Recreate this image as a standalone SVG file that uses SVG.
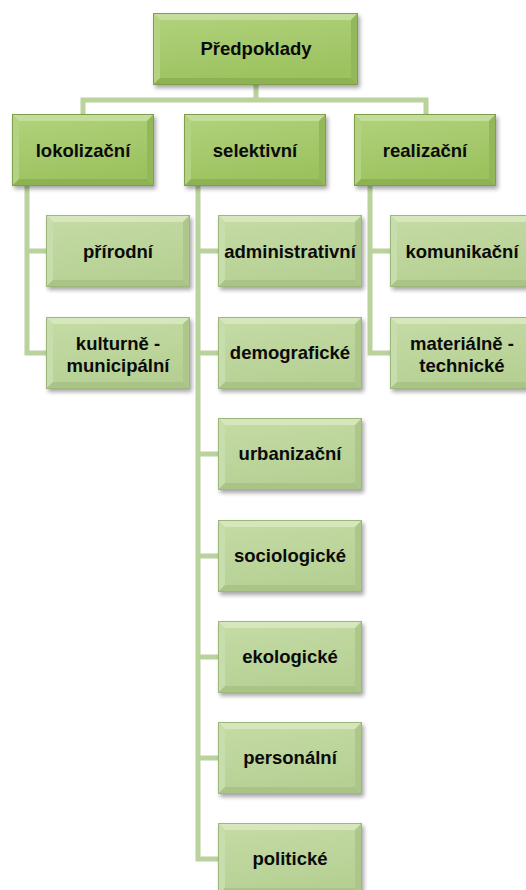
<svg xmlns="http://www.w3.org/2000/svg" xmlns:xlink="http://www.w3.org/1999/xlink" width="526" height="890" viewBox="0 0 526 890">
<defs>
<style>
.lbl{font-family:"Liberation Sans",Arial,sans-serif;font-weight:bold;font-size:18.5px;fill:#0a0a0a;text-anchor:middle}
.conn{stroke:#bad29b;stroke-width:5;fill:none;stroke-linecap:square;stroke-linejoin:miter}
.e1{fill:#7f9f4b}
.t1{fill:#c3dd9a}.l1{fill:#b3d383}.b1{fill:#8db253}.r1{fill:#93b85a}
.e3{fill:#9db67c}
.t3{fill:#d5e7bb}.l3{fill:#c7ddab}.b3{fill:#a9c486}.r3{fill:#adc78b}
</style>
<linearGradient id="g1" x1="0" y1="0" x2="0.3" y2="1">
<stop offset="0" stop-color="#b1d27c"/>
<stop offset="1" stop-color="#9cc25f"/>
</linearGradient>
<linearGradient id="g3" x1="0" y1="0" x2="0.3" y2="1">
<stop offset="0" stop-color="#c5dca5"/>
<stop offset="1" stop-color="#b6d094"/>
</linearGradient>
<filter id="sh" x="-10%" y="-10%" width="125%" height="130%">
<feGaussianBlur in="SourceAlpha" stdDeviation="2"/>
<feOffset dx="2" dy="3" result="o"/>
<feComponentTransfer><feFuncA type="linear" slope="0.35"/></feComponentTransfer>
<feMerge><feMergeNode/><feMergeNode in="SourceGraphic"/></feMerge>
</filter>
<g id="boxTop" filter="url(#sh)">
<rect x="0" y="0" width="205" height="72" class="e1"/>
<rect x="1" y="1" width="203" height="70" fill="url(#g1)"/>
<path class="t1" d="M1,1 H204 L198,7 H7 Z"/>
<path class="l1" d="M1,1 L7,7 V65 L1,71 Z"/>
<path class="b1" d="M1,71 L7,65 H198 L204,71 Z"/>
<path class="r1" d="M204,1 V71 L198,65 V7 Z"/>
</g>
<g id="box2" filter="url(#sh)">
<rect x="0" y="0" width="142" height="72" class="e1"/>
<rect x="1" y="1" width="140" height="70" fill="url(#g1)"/>
<path class="t1" d="M1,1 H141 L135,7 H7 Z"/>
<path class="l1" d="M1,1 L7,7 V65 L1,71 Z"/>
<path class="b1" d="M1,71 L7,65 H135 L141,71 Z"/>
<path class="r1" d="M141,1 V71 L135,65 V7 Z"/>
</g>
<g id="box3" filter="url(#sh)">
<rect x="0" y="0" width="144" height="72" class="e3"/>
<rect x="1" y="1" width="142" height="70" fill="url(#g3)"/>
<path class="t3" d="M1,1 H143 L137,7 H7 Z"/>
<path class="l3" d="M1,1 L7,7 V65 L1,71 Z"/>
<path class="b3" d="M1,71 L7,65 H137 L143,71 Z"/>
<path class="r3" d="M143,1 V71 L137,65 V7 Z"/>
</g>
</defs>
<rect width="526" height="890" fill="#ffffff"/>
<g id="connectors">
<path class="conn" d="M256,85 V100 M83,114 V100 H426 V114"/>
<path class="conn" d="M27,186 V353 M27,251 H46 M27,353 H46"/>
<path class="conn" d="M370,186 V353 M370,251 H390 M370,353 H390"/>
<path class="conn" d="M198,186 V859 M198,251 H218 M198,353 H218 M198,454 H218 M198,556 H218 M198,657 H218 M198,758 H218 M198,859 H218"/>
</g>
<g id="n-predpoklady"><use xlink:href="#boxTop" x="153" y="13"/><text class="lbl" x="256" y="55">Předpoklady</text></g>
<g id="n-lokolizacni"><use xlink:href="#box2" x="12" y="114"/><text class="lbl" x="83" y="157">lokolizační</text></g>
<g id="n-selektivni"><use xlink:href="#box2" x="184" y="114"/><text class="lbl" x="255" y="157">selektivní</text></g>
<g id="n-realizacni"><use xlink:href="#box2" x="354" y="114"/><text class="lbl" x="425" y="157">realizační</text></g>
<g id="n-prirodni"><use xlink:href="#box3" x="46" y="215"/><text class="lbl" x="118" y="258">přírodní</text></g>
<g id="n-kulturne"><use xlink:href="#box3" x="46" y="317"/><text class="lbl" x="118" y="350">kulturně -</text><text class="lbl" x="118" y="372">municipální</text></g>
<g id="n-komunikacni"><use xlink:href="#box3" x="390" y="215"/><text class="lbl" x="462" y="258">komunikační</text></g>
<g id="n-materialne"><use xlink:href="#box3" x="390" y="317"/><text class="lbl" x="462" y="350">materiálně -</text><text class="lbl" x="462" y="372">technické</text></g>
<g id="n-administrativni"><use xlink:href="#box3" x="218" y="215"/><text class="lbl" x="290" y="258">administrativní</text></g>
<g id="n-demograficke"><use xlink:href="#box3" x="218" y="317"/><text class="lbl" x="290" y="359">demografické</text></g>
<g id="n-urbanizacni"><use xlink:href="#box3" x="218" y="418"/><text class="lbl" x="290" y="460">urbanizační</text></g>
<g id="n-sociologicke"><use xlink:href="#box3" x="218" y="520"/><text class="lbl" x="290" y="562">sociologické</text></g>
<g id="n-ekologicke"><use xlink:href="#box3" x="218" y="621"/><text class="lbl" x="290" y="663">ekologické</text></g>
<g id="n-personalni"><use xlink:href="#box3" x="218" y="722"/><text class="lbl" x="290" y="764">personální</text></g>
<g id="n-politicke"><use xlink:href="#box3" x="218" y="823"/><text class="lbl" x="290" y="865">politické</text></g>
</svg>
